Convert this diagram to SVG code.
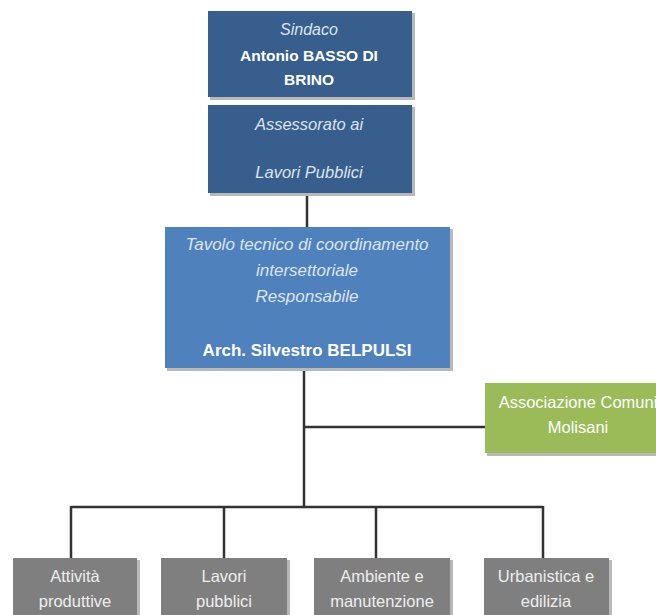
<svg xmlns="http://www.w3.org/2000/svg" width="656" height="615" viewBox="0 0 656 615">
<style>
text{font-family:"Liberation Sans",Arial,sans-serif;text-anchor:middle;fill:#ffffff}
.it{font-style:italic;fill:#dde4ee}
.b{font-weight:bold}
.sh{fill:#b8b8b8}
.ln{stroke:#333333;stroke-width:2.5;fill:none}
.g{font-size:16.5px;fill:#eeeeee}
</style>
<rect width="656" height="615" fill="#ffffff"/>
<g id="connectors">
<path class="ln" d="M307 193V228"/>
<path class="ln" d="M304 368V507"/>
<path class="ln" d="M304 427H486"/>
<path class="ln" d="M71 507H543"/>
<path class="ln" d="M71 506V558M224 507V558M376 507V558M543 506V558"/>
</g>
<g id="sindaco">
<rect class="sh" x="210" y="13" width="205" height="87"/>
<rect x="208" y="11" width="204" height="86" fill="#375e8d"/>
<text class="it" x="309" y="35" font-size="16">Sindaco</text>
<text class="b" x="309" y="61" font-size="15.5">Antonio BASSO DI</text>
<text class="b" x="309" y="85" font-size="15.5">BRINO</text>
</g>
<g id="assessorato">
<rect class="sh" x="210" y="107" width="205" height="89"/>
<rect x="208" y="105" width="204" height="88" fill="#375e8d"/>
<text class="it" x="309" y="130" font-size="16.5">Assessorato ai</text>
<text class="it" x="309" y="178" font-size="16.5">Lavori Pubblici</text>
</g>
<g id="tavolo">
<rect class="sh" x="167" y="229" width="286" height="142"/>
<rect x="165" y="227" width="285" height="141" fill="#4f81bd"/>
<text class="it" x="307" y="250" font-size="17">Tavolo tecnico di coordinamento</text>
<text class="it" x="307" y="276" font-size="17">intersettoriale</text>
<text class="it" x="307" y="302" font-size="17">Responsabile</text>
<text class="b" x="307" y="356" font-size="17">Arch. Silvestro BELPULSI</text>
</g>
<g id="associazione">
<rect class="sh" x="487" y="385" width="175" height="71"/>
<rect x="485" y="383" width="175" height="70" fill="#9bbb59"/>
<text x="578" y="408" font-size="16.5" fill="#f2f6e8">Associazione Comuni</text>
<text x="578" y="433" font-size="16.5" fill="#f2f6e8">Molisani</text>
</g>
<g id="attivita">
<rect class="sh" x="15" y="560" width="125" height="60"/>
<rect x="13" y="558" width="124" height="60" fill="#7f7f7f"/>
<text class="g" x="75" y="582">Attività</text>
<text class="g" x="75" y="607">produttive</text>
</g>
<g id="lavori">
<rect class="sh" x="163" y="560" width="127" height="60"/>
<rect x="161" y="558" width="126" height="60" fill="#7f7f7f"/>
<text class="g" x="224" y="582">Lavori</text>
<text class="g" x="224" y="607">pubblici</text>
</g>
<g id="ambiente">
<rect class="sh" x="316" y="560" width="137" height="60"/>
<rect x="314" y="558" width="136" height="60" fill="#7f7f7f"/>
<text class="g" x="382" y="582">Ambiente e</text>
<text class="g" x="382" y="607">manutenzione</text>
</g>
<g id="urbanistica">
<rect class="sh" x="486" y="560" width="126" height="60"/>
<rect x="484" y="558" width="125" height="60" fill="#7f7f7f"/>
<text class="g" x="546" y="582">Urbanistica e</text>
<text class="g" x="546" y="607">edilizia</text>
</g>
</svg>
